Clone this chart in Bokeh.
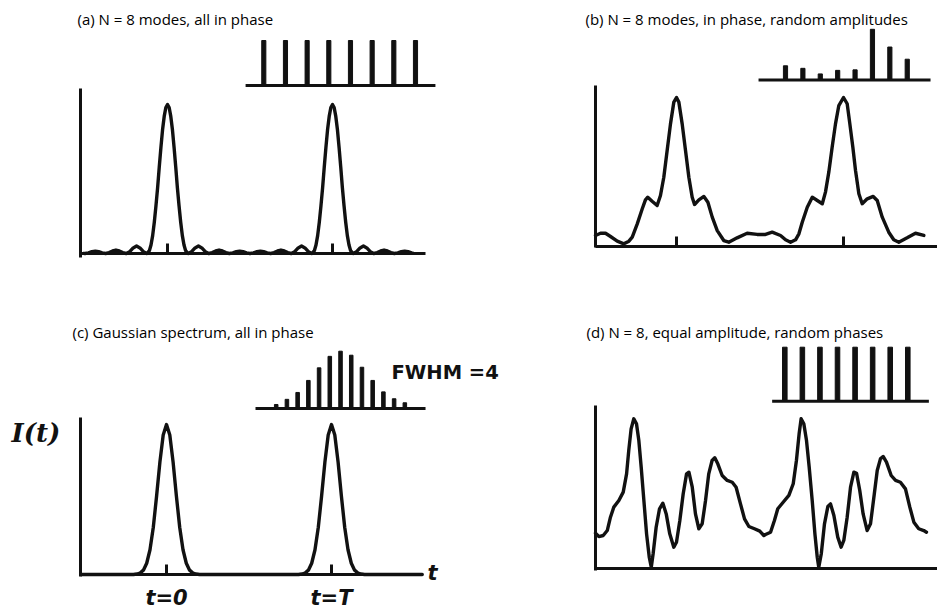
from bokeh.plotting import figure
from bokeh.models import Range1d, LinearAxis, FixedTicker, Label
from bokeh.embed import file_html
from bokeh.resources import INLINE

INK = "#111111"
W, H = 937, 611

# ---------------- (a) N = 8 modes, all in phase ----------------
a_t = [-0.51, -0.5, -0.479, -0.458, -0.4375, -0.417, -0.396, -0.375, -0.354, -0.333,
       -0.3125, -0.292, -0.271, -0.25, -0.229, -0.208, -0.1875, -0.167, -0.146, -0.125,
       -0.11, -0.10, -0.09, -0.08, -0.07, -0.06, -0.05, -0.04, -0.03, -0.02,
       -0.01, 0.0, 0.01, 0.02, 0.03, 0.04, 0.05, 0.06, 0.07, 0.08,
       0.09, 0.10, 0.11, 0.125, 0.146, 0.167, 0.1875, 0.208, 0.229, 0.25,
       0.271, 0.292, 0.3125, 0.333, 0.354, 0.375, 0.396, 0.417, 0.4375, 0.458,
       0.479, 0.5, 0.521, 0.542, 0.5625, 0.583, 0.604, 0.625, 0.646, 0.667,
       0.6875, 0.708, 0.729, 0.75, 0.771, 0.792, 0.8125, 0.833, 0.854, 0.875,
       0.89, 0.90, 0.91, 0.92, 0.93, 0.94, 0.95, 0.96, 0.97, 0.98,
       0.99, 1.0, 1.01, 1.02, 1.03, 1.04, 1.05, 1.06, 1.07, 1.08,
       1.09, 1.10, 1.11, 1.125, 1.146, 1.167, 1.1875, 1.208, 1.229, 1.25,
       1.271, 1.292, 1.3125, 1.333, 1.354, 1.375, 1.396, 1.417, 1.4375, 1.458,
       1.479, 1.49]
a_I = [0.001, 0.0, 0.004, 0.012, 0.016, 0.012, 0.004, 0.0, 0.006, 0.017,
       0.023, 0.017, 0.006, 0.0, 0.0125, 0.0375, 0.05, 0.0375, 0.0125, 0.0,
       0.019, 0.057, 0.12, 0.21, 0.32, 0.44, 0.58, 0.71, 0.83, 0.92,
       0.98, 1.0, 0.98, 0.92, 0.83, 0.71, 0.58, 0.44, 0.32, 0.21,
       0.12, 0.057, 0.019, 0.0, 0.0125, 0.0375, 0.05, 0.0375, 0.0125, 0.0,
       0.006, 0.017, 0.023, 0.017, 0.006, 0.0, 0.004, 0.012, 0.016, 0.012,
       0.004, 0.0, 0.004, 0.012, 0.016, 0.012, 0.004, 0.0, 0.006, 0.017,
       0.023, 0.017, 0.006, 0.0, 0.0125, 0.0375, 0.05, 0.0375, 0.0125, 0.0,
       0.019, 0.057, 0.12, 0.21, 0.32, 0.44, 0.58, 0.71, 0.83, 0.92,
       0.98, 1.0, 0.98, 0.92, 0.83, 0.71, 0.58, 0.44, 0.32, 0.21,
       0.12, 0.057, 0.019, 0.0, 0.0125, 0.0375, 0.05, 0.0375, 0.0125, 0.0,
       0.006, 0.017, 0.023, 0.017, 0.006, 0.0, 0.004, 0.012, 0.016, 0.012,
       0.004, 0.001]
a_modes = [1, 2, 3, 4, 5, 6, 7, 8]
a_amp = [1.0, 1.0, 1.0, 1.0, 1.0, 1.0, 1.0, 1.0]

# ---------------- (b) N = 8 modes, in phase, random amplitudes ----------------
b_t = [-0.485, -0.455, -0.425, -0.395, -0.355, -0.315, -0.285, -0.265, -0.235, -0.205,
       -0.186, -0.172, -0.146, -0.116, -0.096, -0.076, -0.056, -0.036, -0.016, 0.0,
       0.014, 0.034, 0.054, 0.074, 0.094, 0.108, 0.134, 0.164, 0.188, 0.214,
       0.244, 0.283, 0.313, 0.363, 0.423, 0.483, 0.533, 0.573, 0.623, 0.653,
       0.683, 0.713, 0.733, 0.753, 0.783, 0.813, 0.843, 0.873, 0.892, 0.912,
       0.932, 0.952, 0.972, 1.0, 1.022, 1.038, 1.056, 1.072, 1.092, 1.112,
       1.142, 1.178, 1.202, 1.232, 1.271, 1.301, 1.331, 1.381, 1.431, 1.481]
b_I = [0.074, 0.089, 0.089, 0.067, 0.036, 0.018, 0.036, 0.063, 0.152, 0.253,
       0.313, 0.331, 0.304, 0.275, 0.342, 0.465, 0.644, 0.823, 0.969, 1.0,
       0.969, 0.823, 0.644, 0.465, 0.331, 0.282, 0.313, 0.336, 0.297, 0.197,
       0.107, 0.040, 0.029, 0.058, 0.089, 0.081, 0.081, 0.096, 0.074, 0.045,
       0.029, 0.045, 0.085, 0.163, 0.264, 0.331, 0.309, 0.287, 0.365, 0.499,
       0.666, 0.823, 0.946, 1.0, 0.958, 0.823, 0.666, 0.510, 0.354, 0.287,
       0.320, 0.336, 0.309, 0.197, 0.096, 0.045, 0.029, 0.058, 0.089, 0.074]
b_modes = [1, 2, 3, 4, 5, 6, 7, 8]
b_amp = [0.28, 0.23, 0.12, 0.19, 0.20, 1.0, 0.65, 0.41]

# ---------------- (c) Gaussian spectrum, all in phase ----------------
c_t = [-0.52, -0.20, -0.18, -0.16, -0.14, -0.12, -0.10, -0.08, -0.06, -0.04,
       -0.02, 0.0, 0.02, 0.04, 0.06, 0.08, 0.10, 0.12, 0.14, 0.16,
       0.18, 0.20, 0.80, 0.82, 0.84, 0.86, 0.88, 0.90, 0.92, 0.94,
       0.96, 0.98, 1.0, 1.02, 1.04, 1.06, 1.08, 1.10, 1.12, 1.14,
       1.16, 1.18, 1.20, 1.55]
c_I = [0.0, 0.0, 0.003, 0.010, 0.029, 0.075, 0.165, 0.315, 0.523, 0.749,
       0.930, 1.0, 0.930, 0.749, 0.523, 0.315, 0.165, 0.075, 0.029, 0.010,
       0.003, 0.0, 0.0, 0.003, 0.010, 0.029, 0.075, 0.165, 0.315, 0.523,
       0.749, 0.930, 1.0, 0.930, 0.749, 0.523, 0.315, 0.165, 0.075, 0.029,
       0.010, 0.003, 0.0, 0.0]
c_modes = [1, 2, 3, 4, 5, 6, 7, 8, 9, 10, 11, 12, 13]
c_amp = [0.07, 0.16, 0.28, 0.49, 0.71, 0.91, 1.0, 0.93, 0.72, 0.49, 0.29, 0.17, 0.10]
c_tick_labels = {0: "t=0", 1: "t=T"}

# ---------------- (d) N = 8, equal amplitude, random phases ----------------
d_t = [0.0, 0.020, 0.046, 0.070, 0.089, 0.109, 0.139, 0.165, 0.185, 0.198,
       0.212, 0.228, 0.244, 0.258, 0.272, 0.288, 0.304, 0.320, 0.332, 0.343,
       0.361, 0.381, 0.401, 0.421, 0.442, 0.466, 0.482, 0.502, 0.522, 0.542,
       0.556, 0.576, 0.595, 0.615, 0.635, 0.655, 0.674, 0.694, 0.710, 0.728,
       0.754, 0.784, 0.814, 0.837, 0.863, 0.887, 0.913, 0.946, 0.978, 1.002,
       1.012, 1.042, 1.065, 1.085, 1.117, 1.151, 1.177, 1.196, 1.212, 1.224,
       1.240, 1.256, 1.272, 1.290, 1.306, 1.320, 1.329, 1.344, 1.363, 1.383,
       1.399, 1.419, 1.442, 1.462, 1.478, 1.498, 1.518, 1.538, 1.554, 1.573,
       1.593, 1.617, 1.637, 1.657, 1.677, 1.696, 1.712, 1.732, 1.760, 1.786,
       1.815, 1.845, 1.871, 1.895, 1.924, 1.954, 1.970]
d_I = [0.235, 0.213, 0.220, 0.253, 0.342, 0.409, 0.453, 0.509, 0.631, 0.787,
       0.931, 0.998, 0.965, 0.853, 0.675, 0.453, 0.231, 0.075, 0.009, 0.098,
       0.275, 0.398, 0.435, 0.364, 0.231, 0.142, 0.175, 0.320, 0.498, 0.631,
       0.642, 0.542, 0.364, 0.265, 0.298, 0.453, 0.631, 0.720, 0.738, 0.698,
       0.620, 0.587, 0.575, 0.542, 0.431, 0.331, 0.280, 0.265, 0.249, 0.220,
       0.227, 0.242, 0.320, 0.398, 0.442, 0.487, 0.565, 0.720, 0.898, 0.998,
       0.965, 0.853, 0.675, 0.453, 0.231, 0.075, 0.009, 0.098, 0.298, 0.413,
       0.431, 0.353, 0.209, 0.142, 0.187, 0.342, 0.542, 0.642, 0.635, 0.520,
       0.364, 0.253, 0.298, 0.475, 0.653, 0.731, 0.747, 0.709, 0.620, 0.587,
       0.575, 0.531, 0.409, 0.309, 0.265, 0.253, 0.242]
d_modes = [1, 2, 3, 4, 5, 6, 7, 8]
d_amp = [1.0, 1.0, 1.0, 1.0, 1.0, 1.0, 1.0, 1.0]


p = figure(width=W, height=H, output_backend="svg", toolbar_location=None,
           x_range=Range1d(0, 1), y_range=Range1d(0, 1),
           x_axis_type=None, y_axis_type=None, min_border=0)
p.outline_line_color = None
p.background_fill_color = "white"
p.border_fill_color = "white"


def scale(key, ox, oy, x_zero, px_x, y_zero, px_y):
    """Register a pair of ranges: value 0 sits at (ox + x_zero, oy + y_zero) on the page."""
    x0 = ox + x_zero
    y0 = oy + y_zero
    p.extra_x_ranges["x" + key] = Range1d(-x0 / px_x, (W - x0) / px_x)
    p.extra_y_ranges["y" + key] = Range1d((y0 - H) / px_y, y0 / px_y)
    return dict(x_range_name="x" + key, y_range_name="y" + key)


def axes(names, t_left, t_right, i_low, i_top, ticks, labels=None):
    yax = LinearAxis(fixed_location=t_left, bounds=(i_low, i_top),
                     ticker=FixedTicker(ticks=[], minor_ticks=[]),
                     axis_line_width=3, axis_line_color=INK,
                     major_tick_line_color=None, minor_tick_line_color=None,
                     major_label_text_color=None, **names)
    p.add_layout(yax, "left")
    xax = LinearAxis(fixed_location=0, bounds=(t_left, t_right),
                     ticker=FixedTicker(ticks=ticks, minor_ticks=[]),
                     axis_line_width=3, axis_line_color=INK,
                     major_tick_in=10, major_tick_out=0,
                     major_tick_line_width=3, major_tick_line_color=INK,
                     minor_tick_line_color=None, **names)
    if labels:
        xax.major_label_overrides = labels
        xax.major_label_text_font = "DejaVu Sans"
        xax.major_label_text_font_style = "bold italic"
        xax.major_label_text_font_size = "21px"
        xax.major_label_text_color = INK
        xax.major_label_standoff = 11
    else:
        xax.major_label_text_color = None
    p.add_layout(xax, "below")


def spectrum(names, modes, amps, bar_w, span):
    p.vbar(x=modes, top=amps, bottom=0, width=bar_w, color=INK, **names)
    p.line(x=span, y=[0, 0], line_width=3, color=INK, **names)


def curve(names, t, I):
    p.line(t, I, line_width=3.4, color=INK, line_join="round", line_cap="round", **names)


def text(s, x, y, font="Open Sans", size="15px", style="normal", color="#000000"):
    p.add_layout(Label(x=x, y=H - y, x_units="screen", y_units="screen", text=s,
                       text_font=font, text_font_size=size, text_font_style=style,
                       text_color=color, text_baseline="middle"))


# (a) upper left
ta = scale("a", 0, 0, 167, 165, 253, 149)
sa = scale("a_spec", 0, 0, 263.3 - 21.67, 21.67, 85, 45)
axes(ta, -0.527, 1.564, -0.027, 1.107, [0, 1])
spectrum(sa, a_modes, a_amp, 0.19, [0.16, 8.92])
curve(ta, a_t, a_I)
text("(a) N = 8 modes, all in phase", 77, 18.5)

# (b) upper right
tb = scale("b", 468, 0, 208, 167, 246, 149)
sb = scale("b_spec", 468, 0, 317 - 17.39, 17.39, 79.5, 50.7)
axes(tb, -0.485, 1.60, -0.01, 1.08, [0, 1])
spectrum(sb, b_modes, b_amp, 0.24, [-0.55, 9.34])
curve(tb, b_t, b_I)
text("(b) N = 8 modes, in phase, random amplitudes", 585, 18.5)

# (c) lower left
tc = scale("c", 0, 300, 166, 165, 274, 150)
sc = scale("c_spec", 0, 300, 275.7 - 10.72, 10.72, 108, 57.3)
axes(tc, -0.521, 1.552, -0.01, 1.047, [0, 1], c_tick_labels)
spectrum(sc, c_modes, c_amp, 0.33, [-0.93, 14.93])
curve(tc, c_t, c_I)
text("(c) Gaussian spectrum, all in phase", 72, 331.5)
text("I(t)", 11, 432, font="DejaVu Serif", size="26px", style="bold italic", color=INK)
text("t", 427, 572, font="DejaVu Sans", size="21px", style="bold italic", color=INK)
text("FWHM =4", 391, 371.5, font="DejaVu Sans", size="19.5px", style="bold", color=INK)

# (d) lower right
td = scale("d", 468, 300, 127, 168, 268, 150)
sd = scale("d_spec", 468, 300, 316.3 - 17.57, 17.57, 100.7, 54)
axes(td, 0.0, 2.10, -0.01, 1.087, [])
spectrum(sd, d_modes, d_amp, 0.26, [0.28, 9.2])
curve(td, d_t, d_I)
text("(d) N = 8, equal amplitude, random phases", 586, 331.5)

open("out.html", "w").write(file_html(p, INLINE))
